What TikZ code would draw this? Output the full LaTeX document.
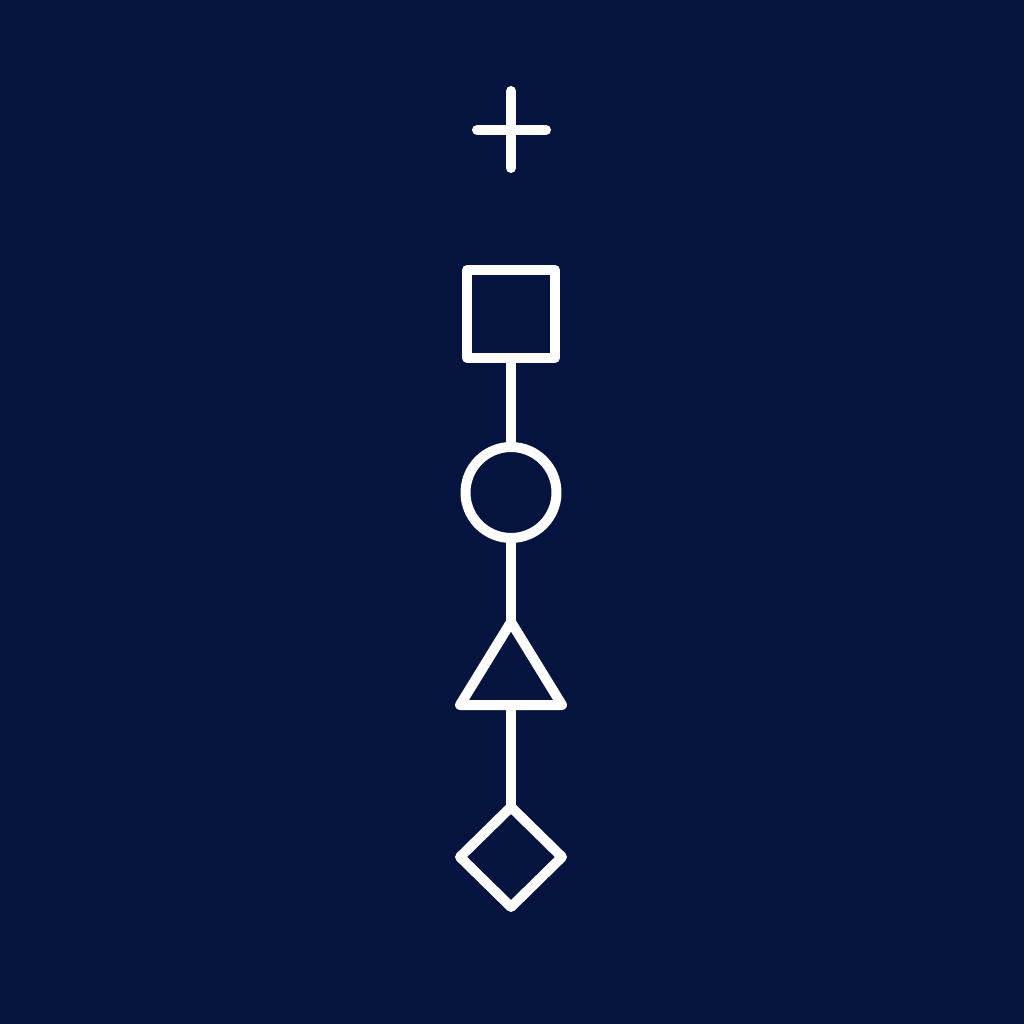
\documentclass[tikz,border=0pt]{standalone}
\usetikzlibrary{shapes.geometric}
\definecolor{bg}{HTML}{04143E}
\begin{document}
\begin{tikzpicture}[x=0.02cm,y=-0.02cm,
  stroke/.style={draw=white,line width=0.2cm,line join=round,line cap=round},
  shapebox/.style={stroke,inner sep=0pt,outer sep=0pt}]
\fill[bg] (0,0) rectangle (1024,1024);
\useasboundingbox (0,0) rectangle (1024,1024);
% plus
\coordinate (pl) at (477,130);
\coordinate (pr) at (546,130);
\coordinate (pt) at (511,91);
\coordinate (pb) at (511,168);
\draw[stroke] (pl) -- (pr);
\draw[stroke] (pt) -- (pb);
% square
\node[shapebox,rectangle,minimum size=1.76cm,line cap=butt] (sq) at (511,314) {};
% circle
\node[shapebox,circle,minimum size=1.82cm] (ci) at (511,492.5) {};
% triangle
\coordinate (ta) at (511,622);
\coordinate (tl) at (460,705);
\coordinate (tr) at (562,705);
\coordinate (tb) at (511,705);
\draw[stroke] (ta) -- (tr) -- (tl) -- cycle;
% diamond
\node[shapebox,diamond,minimum width=2.04cm,minimum height=2.0cm] (di) at (511,857) {};
% connectors
\draw[stroke,line cap=butt] (sq.south) -- (ci.north);
\draw[stroke,line cap=butt] (ci.south) -- (ta);
\draw[stroke,line cap=butt] (tb) -- (di.north);
\end{tikzpicture}
\end{document}
